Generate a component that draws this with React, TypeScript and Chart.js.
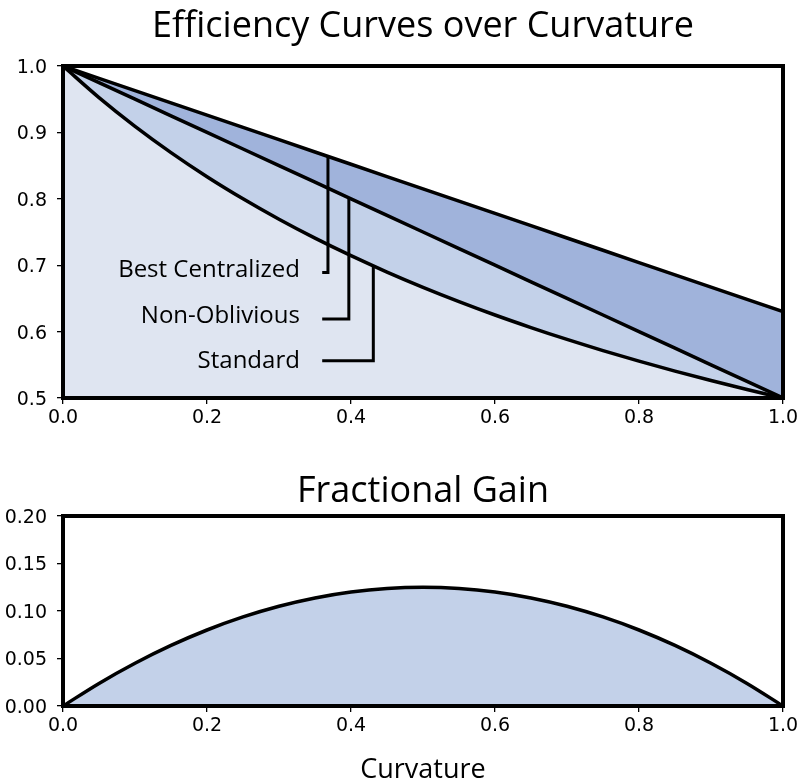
import React, { useEffect, useRef } from 'react';
import { Chart, registerables } from 'chart.js';
Chart.register(...registerables);

// ---------- data ----------
const curvature = [0, 0.05, 0.1, 0.15, 0.2, 0.25, 0.3, 0.35, 0.4, 0.45, 0.5, 0.55, 0.6, 0.65, 0.7, 0.75, 0.8, 0.85, 0.9, 0.95, 1.0];
const standard = [1.0, 0.9524, 0.9091, 0.8696, 0.8333, 0.8, 0.7692, 0.7407, 0.7143, 0.6897, 0.6667, 0.6452, 0.625, 0.6061, 0.5882, 0.5714, 0.5556, 0.5405, 0.5263, 0.5128, 0.5];
const nonOblivious = [1.0, 0.975, 0.95, 0.925, 0.9, 0.875, 0.85, 0.825, 0.8, 0.775, 0.75, 0.725, 0.7, 0.675, 0.65, 0.625, 0.6, 0.575, 0.55, 0.525, 0.5];
const bestCentralized = [1.0, 0.9815, 0.963, 0.9445, 0.926, 0.9075, 0.889, 0.8705, 0.852, 0.8335, 0.815, 0.7965, 0.778, 0.7595, 0.741, 0.7225, 0.704, 0.6855, 0.667, 0.6485, 0.63];
const fractionalGain = [0, 0.02375, 0.045, 0.06375, 0.08, 0.09375, 0.105, 0.11375, 0.12, 0.12375, 0.125, 0.12375, 0.12, 0.11375, 0.105, 0.09375, 0.08, 0.06375, 0.045, 0.02375, 0];

const xTickValues = [0, 0.2, 0.4, 0.6, 0.8, 1.0];
const topYTicks = [0.5, 0.6, 0.7, 0.8, 0.9, 1.0];
const bottomYTicks = [0, 0.05, 0.1, 0.15, 0.2];

const topTitle = 'Efficiency Curves over Curvature';
const bottomTitle = 'Fractional Gain';
const xAxisLabel = 'Curvature';

const annoLabels = ['Best Centralized', 'Non-Oblivious', 'Standard'];
const annoTargetX = [0.368, 0.397, 0.431];
const annoTargetY = [0.864, 0.8015, 0.699];
const annoElbowY = [0.689, 0.619, 0.556];
const annoBaselineY = [0.682, 0.6125, 0.5447];
const annoStartX = 0.36;
const annoTextX = 0.329;

// ---------- styles ----------
const TITLE_FONT = '36px "Open Sans"';
const ANNO_FONT = '24px "Open Sans"';
const TICK_FONT = { family: 'DejaVu Sans', size: 19 };
const XLABEL_FONT = '27px "Open Sans"';
const LIGHT = '#dfe5f1';
const MID = '#c3d1e9';
const DARK = '#a0b3db';

const pts = (ys: number[]) => curvature.map((x, i) => ({ x, y: ys[i] }));

const framePlugin = {
  id: 'frame',
  afterDraw(chart: any) {
    const { ctx, chartArea: a } = chart;
    ctx.save();
    ctx.lineWidth = 4;
    ctx.strokeStyle = '#000';
    ctx.strokeRect(a.left, a.top, a.right - a.left, a.bottom - a.top);
    ctx.restore();
  },
};

function titlePlugin(text: string, baseline: number) {
  return {
    id: 'customTitle',
    afterDraw(chart: any) {
      const { ctx, chartArea: a } = chart;
      ctx.save();
      ctx.font = TITLE_FONT;
      ctx.fillStyle = '#000';
      ctx.textAlign = 'center';
      ctx.textBaseline = 'alphabetic';
      ctx.fillText(text, (a.left + a.right) / 2, baseline);
      ctx.restore();
    },
  };
}

const xLabelPlugin = {
  id: 'xLabel',
  afterDraw(chart: any) {
    const { ctx, chartArea: a } = chart;
    ctx.save();
    ctx.font = XLABEL_FONT;
    ctx.fillStyle = '#000';
    ctx.textAlign = 'center';
    ctx.textBaseline = 'alphabetic';
    ctx.fillText(xAxisLabel, (a.left + a.right) / 2, 328);
    ctx.restore();
  },
};

const annoPlugin = {
  id: 'annos',
  afterDatasetsDraw(chart: any) {
    const { ctx, scales } = chart;
    const x = scales.x, y = scales.y;
    ctx.save();
    ctx.lineWidth = 3;
    ctx.strokeStyle = '#000';
    ctx.lineJoin = 'miter';
    ctx.lineCap = 'butt';
    annoLabels.forEach((label, i) => {
      const sx = x.getPixelForValue(annoStartX);
      const ex = x.getPixelForValue(annoTargetX[i]);
      const ey = y.getPixelForValue(annoElbowY[i]);
      const ty = y.getPixelForValue(annoTargetY[i]);
      ctx.beginPath();
      ctx.moveTo(sx, ey);
      ctx.lineTo(ex, ey);
      ctx.lineTo(ex, ty);
      ctx.stroke();
      ctx.font = ANNO_FONT;
      ctx.fillStyle = '#000';
      ctx.textAlign = 'right';
      ctx.textBaseline = 'alphabetic';
      ctx.fillText(label, x.getPixelForValue(annoTextX), y.getPixelForValue(annoBaselineY[i]));
    });
    ctx.restore();
  },
};

function xScale(height: number) {
  return {
    type: 'linear',
    min: 0,
    max: 1,
    afterBuildTicks: (s: any) => { s.ticks = xTickValues.map((v) => ({ value: v })); },
    afterFit: (s: any) => { s.height = height; },
    grid: { display: true, drawOnChartArea: false, drawTicks: true, tickLength: 6, color: '#000', lineWidth: 1.3 },
    border: { display: false },
    ticks: { font: TICK_FONT, color: '#000', padding: 3, maxRotation: 0, autoSkip: false, callback: (v: any) => Number(v).toFixed(1) },
  };
}

function yScale(min: number, max: number, values: number[], digits: number) {
  return {
    type: 'linear',
    min,
    max,
    afterBuildTicks: (s: any) => { s.ticks = values.map((v) => ({ value: v })); },
    afterFit: (s: any) => { s.width = 63; },
    grid: { display: true, drawOnChartArea: false, drawTicks: true, tickLength: 6, color: '#000', lineWidth: 1.3 },
    border: { display: false },
    ticks: { font: TICK_FONT, color: '#000', padding: 10, labelOffset: 2, autoSkip: false, callback: (v: any) => Number(v).toFixed(digits) },
  };
}

export default function App() {
  const topRef = useRef<HTMLCanvasElement>(null);
  const botRef = useRef<HTMLCanvasElement>(null);

  useEffect(() => {
    const line = { borderColor: '#000', borderWidth: 3.5, pointRadius: 0, tension: 0 };
    const c1 = new Chart(topRef.current as HTMLCanvasElement, {
      type: 'line',
      data: {
        datasets: [
          { ...line, label: 'Standard', data: pts(standard), fill: 'start', backgroundColor: LIGHT, cubicInterpolationMode: 'monotone' },
          { ...line, label: 'Non-Oblivious', data: pts(nonOblivious), fill: '-1', backgroundColor: MID },
          { ...line, label: 'Best Centralized', data: pts(bestCentralized), fill: '-1', backgroundColor: DARK },
        ],
      } as any,
      options: {
        responsive: false,
        animation: false,
        devicePixelRatio: 1,
        layout: { padding: { top: 66, right: 21, left: 0, bottom: 0 } },
        scales: { x: xScale(52), y: yScale(0.5, 1.0, topYTicks, 1) } as any,
        plugins: { legend: { display: false }, tooltip: { enabled: false }, filler: { drawTime: 'beforeDatasetsDraw' } } as any,
      },
      plugins: [annoPlugin, framePlugin, titlePlugin(topTitle, 37)],
    });
    const c2 = new Chart(botRef.current as HTMLCanvasElement, {
      type: 'line',
      data: {
        datasets: [
          { ...line, label: 'Fractional Gain', data: pts(fractionalGain), fill: 'start', backgroundColor: MID, cubicInterpolationMode: 'monotone' },
        ],
      } as any,
      options: {
        responsive: false,
        animation: false,
        devicePixelRatio: 1,
        layout: { padding: { top: 66, right: 21, left: 0, bottom: 0 } },
        scales: { x: xScale(78), y: yScale(0, 0.2, bottomYTicks, 2) } as any,
        plugins: { legend: { display: false }, tooltip: { enabled: false }, filler: { drawTime: 'beforeDatasetsDraw' } } as any,
      },
      plugins: [framePlugin, titlePlugin(bottomTitle, 52), xLabelPlugin],
    });
    return () => { c1.destroy(); c2.destroy(); };
  }, []);

  return (
    <div style={{ position: 'fixed', left: 0, top: 0, width: 804, height: 784, background: '#fff' }}>
      <canvas ref={topRef} width={804} height={450} style={{ position: 'absolute', left: 0, top: 0, width: 804, height: 450 }} />
      <canvas ref={botRef} width={804} height={334} style={{ position: 'absolute', left: 0, top: 450, width: 804, height: 334 }} />
    </div>
  );
}
